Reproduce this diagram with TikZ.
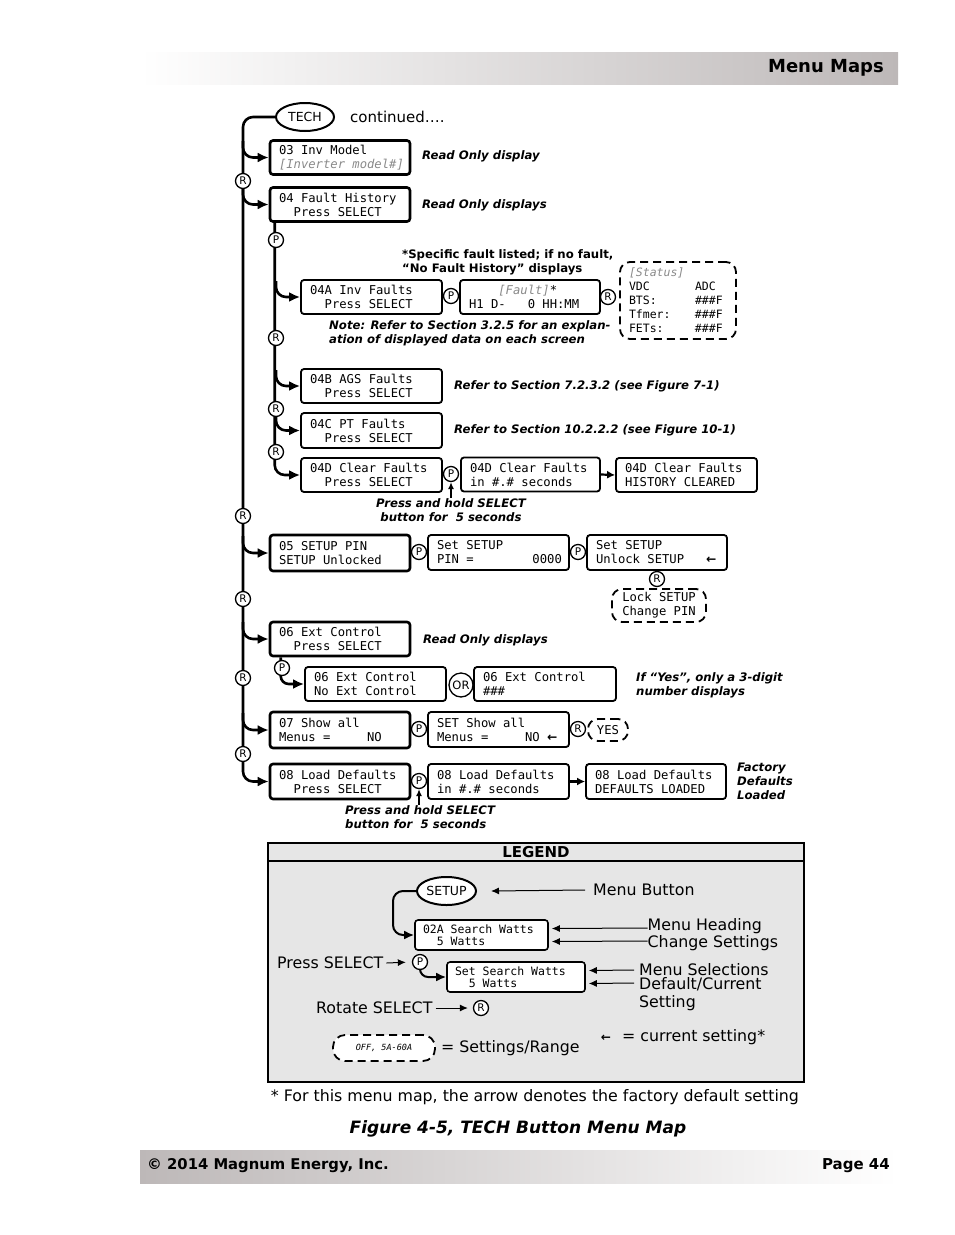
\documentclass[tikz,border=0pt]{standalone}
\usepackage{fontspec}
\setmainfont{DejaVu Sans}
\setsansfont{DejaVu Sans}
\setmonofont{DejaVu Sans Mono}
\usetikzlibrary{arrows.meta,shapes.geometric,calc}
\definecolor{hdr}{HTML}{BDB8B8}
\definecolor{lgd}{HTML}{E6E6E6}
\definecolor{txtgray}{HTML}{8A8A8A}
\newcommand{\ind}[1]{\hphantom{#1}}
\newcommand{\gr}[1]{{\itshape\color{txtgray}#1}}
\newcommand{\monofont}[2]{\ttfamily\fontsize{#1}{#2}\selectfont\spaceskip=0.602em\xspaceskip=0.602em\relax}
\newcommand{\curarr}{{\sffamily\bfseries ←}}
\tikzset{
  mbox/.style={draw, line width=2.6pt, rounded corners=3pt, fill=white,
    font=\monofont{12.2}{14}, align=flush left,
    inner xsep=9pt, inner ysep=2pt, minimum height=34pt},
  sbox/.style={mbox, line width=1.8pt},
  dbox/.style={draw, line width=1.8pt, dash pattern=on 8pt off 5pt, rounded corners=10pt,
    fill=white, font=\monofont{12.2}{14}, align=flush center, inner sep=0pt},
  circ/.style={circle, draw, line width=1.3pt, fill=white, inner sep=0pt,
    minimum size=15pt, font=\sffamily\fontsize{10.5}{10.5}\selectfont},
  mline/.style={line width=2.6pt, rounded corners=10pt},
  br/.style={mline, -{Latex[length=11pt,width=10pt]}},
  harr/.style={line width=2.2pt, -{Latex[length=8pt,width=8pt]}},
  uarr/.style={line width=1.3pt, -{Latex[length=7pt,width=6pt]}},
  larr/.style={line width=1pt, -{Latex[length=8pt,width=7pt]}},
  note/.style={font=\bfseries\itshape\fontsize{11.7}{14}\selectfont, align=left, inner sep=0pt},
  lgtxt/.style={font=\sffamily\fontsize{15.8}{14}\selectfont, inner sep=0pt, align=left},
  btn/.style={ellipse, draw, line width=2pt, fill=white, inner sep=0pt,
    font=\sffamily\fontsize{12.5}{12.5}\selectfont}
}
\begin{document}
\begin{tikzpicture}[x=1pt,y=-1pt]
\useasboundingbox (0,0) rectangle (954,1235);
% header and footer
\shade[left color=white, right color=hdr] (140,52) rectangle (898,84);
\node[anchor=east, font=\bfseries\fontsize{18}{18}\selectfont, inner sep=0pt] (title) at (884,68) {Menu Maps};
\shade[left color=hdr, right color=white] (140,1150) rectangle (898,1183);
\node[anchor=west, font=\bfseries\fontsize{14.8}{14.8}\selectfont, inner sep=0pt] (copy) at (147,1166) {© 2014 Magnum Energy, Inc.};
\node[anchor=east, font=\bfseries\fontsize{15}{15}\selectfont, inner sep=0pt] (page) at (890,1166) {Page 44};

% TECH button
\node[btn, minimum width=58pt, minimum height=28pt] (tech) at (305,117) {TECH};
\node[anchor=west, font=\sffamily\fontsize{15}{15}\selectfont, inner sep=0pt] (cont) at (350,117) {continued….};

% main column boxes
\node[mbox, text width=122pt] (n03) at (340,157.5) {03 Inv Model\\\gr{[Inverter~model\#]}};
\node[mbox, text width=122pt] (n04) at (340,204.5) {04 Fault History\\\ind{00}Press SELECT};
\node[mbox, text width=122pt, minimum height=36pt] (n05) at (340,553) {05 SETUP PIN\\SETUP Unlocked};
\node[mbox, text width=122pt] (n06) at (340,639) {06 Ext Control\\\ind{00}Press SELECT};
\node[mbox, text width=122pt, minimum height=36pt] (n07) at (340,730) {07 Show all\\Menus =\ind{00000}NO};
\node[mbox, text width=122pt, minimum height=35pt] (n08) at (340,781.5) {08 Load Defaults\\\ind{00}Press SELECT};

% fault history sub boxes
\node[sbox, text width=123pt] (n04a) at (371.5,297) {04A Inv Faults\\\ind{00}Press SELECT};
\node[sbox, text width=122pt] (flt) at (530,297) {\ind{0000}\gr{[Fault]}*\\H1 D-\ind{000}0 HH:MM};
\node[dbox, minimum width=116pt, minimum height=77pt, text width=98pt, align=flush left,
      font=\monofont{11.5}{14}] (stat) at (678,300.5)
  {\gr{[Status]}\\\makebox[66pt][l]{VDC}ADC\\\makebox[66pt][l]{BTS:}\#\#\#F\\\makebox[66pt][l]{Tfmer:}\#\#\#F\\\makebox[66pt][l]{FETs:}\#\#\#F};
\node[sbox, text width=123pt] (n04b) at (371.5,386) {04B AGS Faults\\\ind{00}Press SELECT};
\node[sbox, text width=123pt, minimum height=35pt] (n04c) at (371.5,430.5) {04C PT Faults\\\ind{00}Press SELECT};
\node[sbox, text width=123pt] (n04d) at (371.5,475) {04D Clear Faults\\\ind{00}Press SELECT};
\node[sbox, text width=121pt] (clr2) at (530.5,474.5) {04D Clear Faults\\in \#.\# seconds};
\node[sbox, text width=123pt] (clr3) at (686.5,475) {04D Clear Faults\\HISTORY CLEARED};

% setup pin
\node[sbox, text width=123pt, minimum height=35pt] (pin) at (498.5,552.5) {Set SETUP\\\mbox{PIN =\ind{00000000}0000}};
\node[sbox, text width=122pt, minimum height=35pt] (unl) at (657,552.5) {Set SETUP\\Unlock SETUP\ind{000}\curarr};
\node[dbox, minimum width=94pt, minimum height=33pt] (lock) at (659,605.5) {Lock SETUP\\Change PIN};

% ext control
\node[sbox, text width=123pt] (ext1) at (375.5,684) {06 Ext Control\\No Ext Control};
\node[sbox, text width=124pt] (ext2) at (545,684) {06 Ext Control\\\#\#\#};

% show all
\node[sbox, text width=123pt, minimum height=35pt] (show2) at (498.5,729.5) {SET Show all\\Menus =\ind{00000}NO \curarr};
\node[dbox, minimum width=40pt, minimum height=22pt] (yes) at (608,730) {YES};

% load defaults
\node[sbox, text width=123pt, minimum height=35pt] (ld2) at (498.5,781.5) {08 Load Defaults\\in \#.\# seconds};
\node[sbox, text width=122pt, minimum height=35pt] (ld3) at (656,781.5) {08 Load Defaults\\DEFAULTS LOADED};

% main line and branches
\draw[br] (tech.west) -| (243,781.5) -- (n08.west);
\draw[br] (243,141) |- (n03.west);
\draw[br] (243,188) |- (n04.west);
\draw[br] (243,536) |- (n05.west);
\draw[br] (243,622) |- (n06.west);
\draw[br] (243,713) |- (n07.west);
% fault sub line
\draw[br] ([xshift=6pt]n04.south west) |- (n04d.west);
\draw[br] (276,281) |- (n04a.west);
\draw[br] (276,370) |- (n04b.west);
\draw[br] (276,414) |- (n04c.west);
% ext control sub
\draw[br, rounded corners=8pt] ([xshift=12pt]n06.south west) |- (ext1.west);
% horizontal arrows
\draw[harr] (clr2.east) -- (clr3.west);
\draw[harr] (ld2.east) -- (ld3.west);

% circles on main line
\node[circ] (r1) at (243,181) {R};
\node[circ] (r2) at (243,516) {R};
\node[circ] (r3) at (243,599) {R};
\node[circ] (r4) at (243,678) {R};
\node[circ] (r5) at (243,754) {R};
% circles on sub line
\node[circ] (sp1) at (276,240) {P};
\node[circ] (sr1) at (276,338) {R};
\node[circ] (sr2) at (276,409) {R};
\node[circ] (sr3) at (276,452) {R};
\node[circ] (pa) at (451,296) {P};
\node[circ] (ra) at (608,297) {R};
\node[circ] (pd) at (451,474) {P};
\node[circ] (p5a) at (419,552) {P};
\node[circ] (p5b) at (578,552) {P};
\node[circ] (r5b) at (657,579) {R};
\node[circ] (p6) at (282,668) {P};
\node[circ, minimum size=24pt, font=\sffamily\fontsize{11.5}{11.5}\selectfont] (or) at (461,685) {OR};
\node[circ] (p7) at (419,729) {P};
\node[circ] (r7) at (578,729) {R};
\node[circ] (p8) at (419,781) {P};

\draw[uarr] (451,498) -- (pd.south);
\draw[uarr] (419,805) -- (p8.south);

% annotations
\node[note, anchor=west] (a1) at (422,156) {Read Only display};
\node[note, anchor=west] (a2) at (422,205) {Read Only displays};
\node[note, anchor=west, font=\bfseries\fontsize{11.7}{14}\selectfont] (a3) at (402,262) {*Specific fault listed; if no fault,\\“No Fault History” displays};
\node[note, anchor=west] (a4) at (329,333.5) {Note: Refer to Section 3.2.5 for an explan-\\ation of displayed data on each screen};
\node[note, anchor=west] (a5) at (454,386) {Refer to Section 7.2.3.2 (see Figure 7-1)};
\node[note, anchor=west] (a6) at (454,430) {Refer to Section 10.2.2.2 (see Figure 10-1)};
\node[note, align=center] (a7) at (451,510) {Press and hold SELECT\\button for\ \ 5 seconds};
\node[note, anchor=west] (a8) at (423,640) {Read Only displays};
\node[note, anchor=west] (a9) at (636,685) {If “Yes”, only a 3-digit\\number displays};
\node[note, anchor=west] (a10) at (737,781) {Factory\\Defaults\\Loaded};
\node[note, anchor=west] (a11) at (345,817) {Press and hold SELECT\\button for\ \ 5 seconds};

% legend
\draw[line width=2pt, fill=lgd] (268,843) rectangle (804,1082);
\draw[line width=1.5pt] (268,861) -- (804,861);
\node[font=\bfseries\fontsize{15}{15}\selectfont, inner sep=0pt] (lgtitle) at (536,852) {LEGEND};
\node[btn, minimum width=59pt, minimum height=28pt] (setup) at (446.5,891) {SETUP};
\node[sbox, line width=1.6pt, text width=117pt, minimum height=30pt, inner xsep=8pt,
      font=\monofont{11.5}{12.5}] (lb1) at (481.5,935) {02A Search Watts\\\ind{00}5 Watts};
\node[sbox, line width=1.6pt, text width=122pt, minimum height=30pt, inner xsep=8pt,
      font=\monofont{11.5}{12.5}] (lb2) at (516,977) {Set Search Watts\\\ind{00}5 Watts};
\draw[line width=2pt, rounded corners=10pt, -{Latex[length=10pt,width=9pt]}] (setup.west) -| (393,935) -- (lb1.west);
\node[circ] (lp) at (420,962) {P};
\node[circ] (lr) at (481,1008) {R};
\draw[line width=2pt, rounded corners=8pt, -{Latex[length=10pt,width=9pt]}] (lp.south) |- (lb2.west);

\node[lgtxt, anchor=west] (t1) at (593,890) {Menu Button};
\node[lgtxt, anchor=west, font=\sffamily\fontsize{15.8}{13}\selectfont] (t23) at (647.5,934.5) {Menu Heading\\Change Settings};
\node[lgtxt, anchor=west] (t45) at (639,977) {Menu Selections\\Default/Current};
\node[lgtxt, anchor=west] (t6) at (639,1003) {Setting};
\node[lgtxt, anchor=west] (t7) at (277,963) {Press SELECT};
\node[lgtxt, anchor=west] (t8) at (316,1008) {Rotate SELECT};
\draw[larr] ([xshift=-8pt]t1.west) -- ([xshift=14pt]setup.east);
\draw[larr] ([yshift=6.5pt]t23.west) -- ([xshift=3pt,yshift=6.5pt]lb1.east);
\draw[larr] ([yshift=-6.5pt]t23.west) -- ([xshift=3pt,yshift=-6.5pt]lb1.east);
\draw[larr] ([xshift=-5pt,yshift=7pt]t45.west) -- ([xshift=3pt,yshift=6.5pt]lb2.east);
\draw[larr] ([xshift=-5pt,yshift=-6pt]t45.west) -- ([xshift=3pt,yshift=-6.5pt]lb2.east);
\draw[larr, shorten >=6pt] ([xshift=3pt]t7.east) -- (lp.west);
\draw[larr, shorten >=5pt] ([xshift=3pt]t8.east) -- (lr.west);

\node[dbox, minimum width=102pt, minimum height=26pt, rounded corners=12pt,
      font=\ttfamily\itshape\fontsize{8.5}{8.5}\selectfont] (rng) at (384,1048) {OFF, 5A-60A};
\node[lgtxt, anchor=west] (t9) at (441,1048) {= Settings/Range};
\node[inner sep=0pt, font=\fontsize{12}{12}\selectfont] (cur) at (606,1038) {\curarr};
\node[lgtxt, anchor=west] (t10) at (622,1037) {= current setting*};

\node[lgtxt] (foot) at (535,1097) {* For this menu map, the arrow denotes the factory default setting};
\node[inner sep=0pt, font=\bfseries\itshape\fontsize{17}{17}\selectfont] (fig) at (518,1129) {Figure 4-5, TECH Button Menu Map};
\end{tikzpicture}
\end{document}
